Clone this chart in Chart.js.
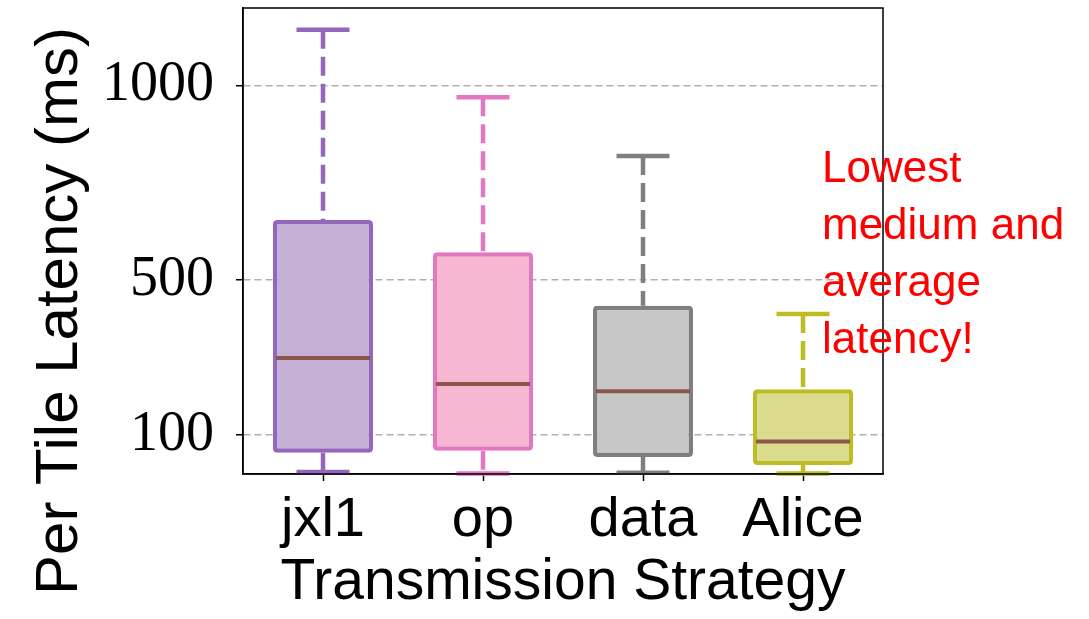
<!DOCTYPE html>
<html>
<head>
<meta charset="utf-8">
<script src="https://cdn.jsdelivr.net/npm/chart.js@4.4.0/dist/chart.umd.min.js"></script>
<style>
  html, body { margin: 0; padding: 0; background: #fff; }
  #wrap { width: 1089px; height: 619px; position: relative; }
</style>
</head>
<body>
<div id="wrap"><canvas id="boxChart"></canvas></div>
<script>
// data
const categories = ['jxl1', 'op', 'data', 'Alice'];
const whiskerLow = [5, 1, 3, 1];
const q1Values = [55, 60, 44, 23];
const medianValues = [299, 232, 213, 84];
const q3Values = [654, 571, 433, 218];
const whiskerHigh = [1144, 970, 819, 412];
const yTicks = [100, 500, 1000];
const yTitle = 'Per Tile Latency (ms)';
const noteLines = ['Lowest', 'medium and', 'average', 'latency!'];

const edgeColors = ['#9467bd', '#e377c2', '#7f7f7f', '#bcbd22'];
const fillColors = ['#c5b0d5', '#f7b6d2', '#c7c7c7', '#dbdb8d'];

// whiskers, caps, medians, frame, y title and the red note
const boxExtras = {
    id: 'boxExtras',
    beforeDatasetsDraw(chart) {
        const ctx = chart.ctx;
        const y = chart.scales.y;
        const bars = chart.getDatasetMeta(0).data;
        ctx.save();
        bars.forEach((bar, i) => {
            const cx = bar.x;
            const capHalf = bar.width * 0.265;
            ctx.strokeStyle = edgeColors[i];
            ctx.lineWidth = 4.5;
            // dashed whiskers
            ctx.setLineDash([19, 8]);
            ctx.beginPath();
            ctx.moveTo(cx, y.getPixelForValue(whiskerHigh[i]));
            ctx.lineTo(cx, y.getPixelForValue(q3Values[i]));
            ctx.moveTo(cx, y.getPixelForValue(q1Values[i]));
            ctx.lineTo(cx, y.getPixelForValue(whiskerLow[i]));
            ctx.stroke();
            // caps
            ctx.setLineDash([]);
            ctx.beginPath();
            [whiskerHigh[i], whiskerLow[i]].forEach(v => {
                const py = y.getPixelForValue(v);
                ctx.moveTo(cx - capHalf, py);
                ctx.lineTo(cx + capHalf, py);
            });
            ctx.stroke();
        });
        ctx.restore();
    },
    afterDatasetsDraw(chart) {
        const ctx = chart.ctx;
        const y = chart.scales.y;
        const bars = chart.getDatasetMeta(0).data;
        ctx.save();
        ctx.strokeStyle = '#8c564b';
        ctx.lineWidth = 4;
        bars.forEach((bar, i) => {
            const py = y.getPixelForValue(medianValues[i]);
            ctx.beginPath();
            ctx.moveTo(bar.x - bar.width / 2 + 3, py);
            ctx.lineTo(bar.x + bar.width / 2 - 3, py);
            ctx.stroke();
        });
        ctx.restore();
    },
    afterDraw(chart) {
        const ctx = chart.ctx;
        const a = chart.chartArea;
        ctx.save();
        ctx.strokeStyle = '#000';
        ctx.lineWidth = 1.5;
        ctx.strokeRect(a.left, a.top, a.right - a.left, a.bottom - a.top);

        // y axis title, placed like the reference (not centred on the axis)
        ctx.save();
        ctx.translate(60, 311);
        ctx.rotate(-Math.PI / 2);
        ctx.fillStyle = '#000';
        ctx.font = '60px "Liberation Sans", Arial, sans-serif';
        ctx.textAlign = 'center';
        ctx.textBaseline = 'middle';
        ctx.fillText(yTitle, 0, 0);
        ctx.restore();

        // note on the right
        ctx.fillStyle = '#ff0000';
        ctx.font = '44px "Liberation Sans", Arial, sans-serif';
        ctx.textBaseline = 'alphabetic';
        ctx.textAlign = 'left';
        noteLines.forEach((line, k) => {
            ctx.fillText(line, 822, 182 + k * 57);
        });
        ctx.restore();
    }
};

const ctx = document.getElementById('boxChart');
new Chart(ctx, {
    type: 'bar',
    data: {
        labels: categories,
        datasets: [{
            data: q1Values.map((v, i) => [v, q3Values[i]]),
            backgroundColor: fillColors,
            borderColor: edgeColors,
            borderWidth: 4.5,
            borderRadius: 4,
            borderSkipped: false,
            barPercentage: 0.625,
            categoryPercentage: 1
        }]
    },
    options: {
        responsive: true,
        maintainAspectRatio: false,
        animation: false,
        layout: {
            padding: { top: 8, right: 206, left: 0, bottom: 0 }
        },
        plugins: {
            legend: { display: false },
            tooltip: { enabled: false }
        },
        scales: {
            x: {
                afterFit: function(scale) { scale.height = 145; },
                grid: {
                    display: true,
                    offset: false,
                    drawOnChartArea: false,
                    drawTicks: true,
                    tickLength: 7,
                    tickColor: '#000',
                    tickWidth: 1.5,
                    tickBorderDash: []
                },
                border: { display: true, color: '#000', width: 1.5 },
                ticks: {
                    color: '#000',
                    padding: 6,
                    font: { family: '"Liberation Sans", Arial, sans-serif', size: 56 }
                },
                title: {
                    display: true,
                    text: 'Transmission Strategy',
                    color: '#000',
                    padding: { top: 0, bottom: 2 },
                    font: { family: '"Liberation Sans", Arial, sans-serif', size: 57 }
                }
            },
            y: {
                min: 0,
                max: 1200,
                afterFit: function(scale) {
                    scale.width = 243;
                    scale.paddingTop = 0;
                    scale.paddingBottom = 0;
                },
                afterBuildTicks: function(scale) {
                    scale.ticks = yTicks.map(v => ({ value: v }));
                },
                grid: {
                    color: '#b0b0b0',
                    lineWidth: 1.5,
                    drawTicks: true,
                    tickLength: 7,
                    tickColor: '#000',
                    tickWidth: 1.5,
                    tickBorderDash: []
                },
                border: { display: true, color: '#000', width: 1.5, dash: [7, 4] },
                ticks: {
                    color: '#000',
                    padding: 22,
                    callback: function(value) { return String(value); },
                    font: { family: '"Liberation Serif", "Times New Roman", serif', size: 56 }
                },
                title: { display: false }
            }
        }
    },
    plugins: [boxExtras]
});
</script>
</body>
</html>
